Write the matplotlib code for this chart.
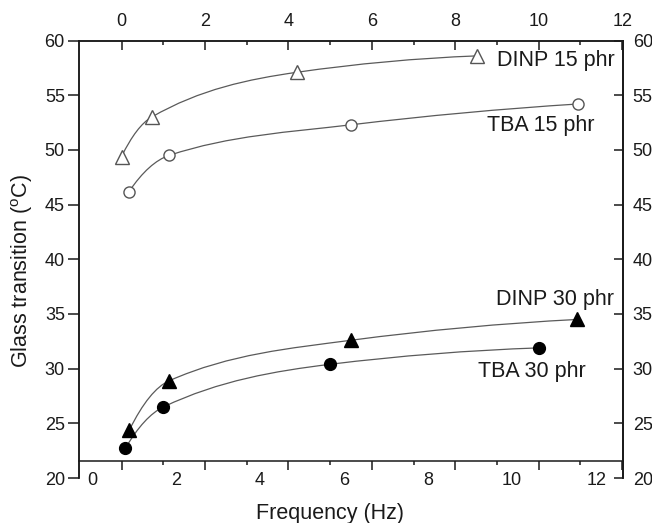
import numpy as np
import matplotlib
matplotlib.use("Agg")
import matplotlib.pyplot as plt
from matplotlib.path import Path
from matplotlib.patches import PathPatch

plt.rcParams['font.family'] = ['Liberation Sans', 'DejaVu Sans']
plt.rcParams['mathtext.fontset'] = 'custom'
plt.rcParams['mathtext.rm'] = 'Liberation Sans'

# 15 phr plasticizer loading (upper frequency scale)
dinp15_freq = [0.0, 0.72, 4.20, 8.51]
dinp15_tg = [49.4, 53.0, 57.1, 58.6]
tba15_freq = [0.18, 1.14, 5.50, 10.93]
tba15_tg = [46.2, 49.5, 52.3, 54.2]

# 30 phr plasticizer loading (lower frequency scale)
dinp30_freq = [0.89, 1.84, 6.17, 11.55]
dinp30_tg = [24.4, 28.9, 32.6, 34.5]
tba30_freq = [0.79, 1.70, 5.67, 10.64]
tba30_tg = [22.7, 26.5, 30.4, 31.9]

freq_ticks = [0, 2, 4, 6, 8, 10, 12]
freq_minor = [1, 3, 5, 7, 9, 11]
tg_ticks = [20, 25, 30, 35, 40, 45, 50, 55, 60]

TXT = '#1a1a1a'
LINE = '#5a5a5a'
TICK_FS = 13
LABEL_FS = 15.5


def hermite_slopes(x, y):
    # monotone (pchip style) tangents, parabolic ends
    x = np.asarray(x, float)
    y = np.asarray(y, float)
    h = np.diff(x)
    d = np.diff(y) / h
    m = np.zeros_like(y)
    for k in range(1, len(x) - 1):
        if d[k - 1] * d[k] > 0:
            w1 = 2 * h[k] + h[k - 1]
            w2 = h[k] + 2 * h[k - 1]
            m[k] = (w1 + w2) / (w1 / d[k - 1] + w2 / d[k])
    m[0] = np.clip(2 * d[0] - m[1], 0, 3 * d[0])
    m[-1] = np.clip(2 * d[-1] - m[-2], 0, 3 * d[-1])
    return m


def smooth_curve(ax, x, y, **kw):
    m = hermite_slopes(x, y)
    verts = [(x[0], y[0])]
    codes = [Path.MOVETO]
    for i in range(len(x) - 1):
        h = x[i + 1] - x[i]
        verts += [(x[i] + h / 3, y[i] + m[i] * h / 3),
                  (x[i + 1] - h / 3, y[i + 1] - m[i + 1] * h / 3),
                  (x[i + 1], y[i + 1])]
        codes += [Path.CURVE4] * 3
    ax.add_patch(PathPatch(Path(verts, codes), fill=False, **kw))


fig = plt.figure(figsize=(6.52, 5.23), dpi=100)
ax = fig.add_axes([0.1212, 0.0860, 0.8344, 0.8364])
ax.set_ylim(20, 60)
ax.set_xlim(-0.31, 12.64)

ax_top = ax.twiny()
ax_top.set_xlim(-1.02, 12.02)

# lower axis line sits a little above the 20 level
spine_y = 21.55
for a in (ax, ax_top):
    a.spines['bottom'].set_position(('data', spine_y))
    a.spines['bottom'].set_visible(False)
    a.patch.set_visible(False)
    for s in a.spines.values():
        s.set_linewidth(1.1)
        s.set_color(TXT)

# bottom frequency labels
ax.set_xticks(freq_ticks)
ax.tick_params(axis='x', bottom=True, top=False, length=0, pad=8.0,
               labelsize=TICK_FS, labelcolor=TXT)

# tick marks on the lower line
marks = ax_top.secondary_xaxis(spine_y / 40 - 0.5, functions=(lambda v: v, lambda v: v))
marks.set_xticks(freq_ticks)
marks.set_xticks(freq_minor, minor=True)
marks.tick_params(axis='x', which='major', direction='out', length=6.3, width=1.1,
                  color=TXT, labelbottom=False, labeltop=False)
marks.tick_params(axis='x', which='minor', direction='out', length=3.0, width=1.1,
                  color=TXT)
marks.spines['bottom'].set_linewidth(1.1)
marks.spines['bottom'].set_color(TXT)

# upper frequency scale
ax_top.set_xticks(freq_ticks)
ax_top.set_xticks(freq_minor, minor=True)
ax_top.tick_params(axis='x', which='major', top=True, bottom=False, direction='in',
                   length=6.3, width=1.1, color=TXT, pad=7.5, labelsize=TICK_FS,
                   labelcolor=TXT)
ax_top.tick_params(axis='x', which='minor', top=True, bottom=False, direction='in',
                   length=3.0, width=1.1, color=TXT)

# left temperature axis
ax.set_yticks(tg_ticks)
ax.tick_params(axis='y', left=True, right=False, direction='out', length=7.7,
               width=1.1, color=TXT, pad=2.5, labelsize=TICK_FS, labelcolor=TXT)

# right temperature axis
ax_r = ax.secondary_yaxis('right', functions=(lambda v: v, lambda v: v))
ax_r.set_yticks(tg_ticks)
ax_r.tick_params(axis='y', direction='in', length=6.3, width=1.1, color=TXT,
                 pad=7, labelsize=TICK_FS, labelcolor=TXT)
ax_r.spines['right'].set_linewidth(1.1)
ax_r.spines['right'].set_color(TXT)

# curves and markers
smooth_curve(ax_top, dinp15_freq, dinp15_tg, edgecolor=LINE, lw=0.9, zorder=2)
smooth_curve(ax_top, tba15_freq, tba15_tg, edgecolor=LINE, lw=0.9, zorder=2)
smooth_curve(ax, dinp30_freq, dinp30_tg, edgecolor=LINE, lw=0.9, zorder=2)
smooth_curve(ax, tba30_freq, tba30_tg, edgecolor=LINE, lw=0.9, zorder=2)

ax_top.plot(dinp15_freq, dinp15_tg, '^', ms=9.5, mfc='white', mec='#555555', mew=1.0,
            ls='none', zorder=3)
ax_top.plot(tba15_freq, tba15_tg, 'o', ms=8, mfc='white', mec='#555555', mew=1.0,
            ls='none', zorder=3)
ax.plot(dinp30_freq, dinp30_tg, '^', ms=9.5, color='black', ls='none', zorder=3)
ax.plot(tba30_freq, tba30_tg, 'o', ms=8.5, color='black', ls='none', zorder=3)

# series labels
ax.text(0.769, 0.954, 'DINP 15 phr', transform=ax.transAxes, ha='left', va='center',
        fontsize=LABEL_FS, color=TXT)
ax.text(0.7495, 0.807, 'TBA 15 phr', transform=ax.transAxes, ha='left', va='center',
        fontsize=LABEL_FS, color=TXT)
ax.text(0.766, 0.408, 'DINP 30 phr', transform=ax.transAxes, ha='left', va='center',
        fontsize=LABEL_FS, color=TXT)
ax.text(0.734, 0.243, 'TBA 30 phr', transform=ax.transAxes, ha='left', va='center',
        fontsize=LABEL_FS, color=TXT)

fig.text(0.0333, 0.482, r'Glass transition ($^{\mathrm{o}}$C)', rotation=90,
         ha='center', va='center', fontsize=LABEL_FS, color=TXT)
fig.text(0.506, 0.0076, 'Frequency (Hz)', ha='center', va='baseline',
         fontsize=LABEL_FS, color=TXT)

fig.savefig('out.png', dpi=100)
